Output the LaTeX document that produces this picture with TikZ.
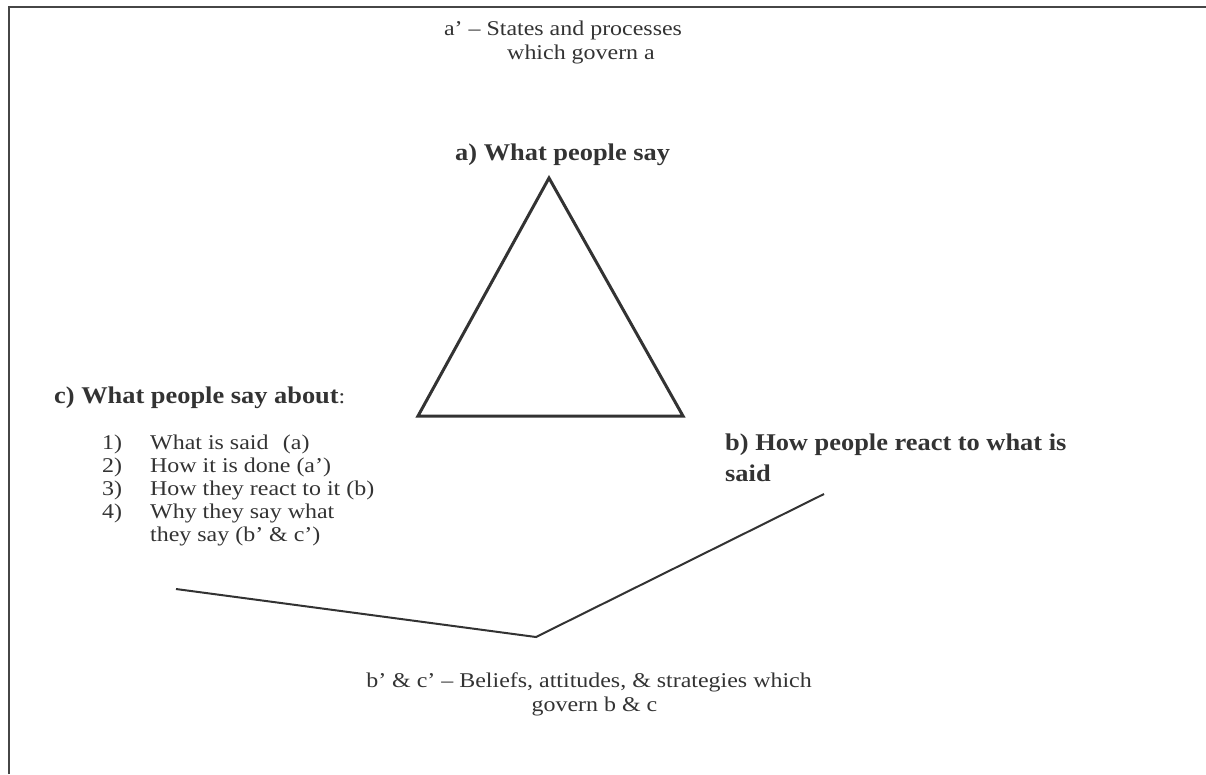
\documentclass[tikz,border=0pt]{standalone}
\usepackage{fontspec}
\setmainfont{Liberation Serif}
\newfontfamily\rfam{Liberation Serif}[FakeStretch=1.14]
\newfontfamily\bfam{Liberation Serif}[FakeStretch=1.1]
\definecolor{ink}{RGB}{51,51,51}
\definecolor{framec}{RGB}{70,70,70}
\tikzset{
  rt/.style={inner sep=0pt, text=ink, font=\rfam\fontsize{21}{24}\selectfont},
  bt/.style={inner sep=0pt, text=ink, font=\bfam\bfseries\fontsize{24}{28}\selectfont},
  tri/.style={draw=ink, line width=3pt},
  vline/.style={draw=ink, line width=2pt},
  frameline/.style={draw=framec, line width=2.5pt}
}
\begin{document}
\begin{tikzpicture}[x=1pt,y=-1pt]
\path[use as bounding box] (0,0) rectangle (1206,774);
% frame (top and left edges)
\coordinate (fbl) at (9,774);
\coordinate (ftl) at (9,7);
\coordinate (ftr) at (1206,7);
\draw[frameline] (fbl) -- (ftl) -- (ftr);
% a'
\node[rt, anchor=base] (ap1) at (563,35.5) {a’ – States and processes};
\node[rt, anchor=base] (ap2) at (581,59) {which govern a};
% a)
\node[bt, anchor=base west] (a) at (455,160) {a) What people say};
% triangle
\coordinate (tA) at (549,178);
\coordinate (tL) at (418,416);
\coordinate (tR) at (683,416);
\draw[tri] (tA) -- (tL) -- (tR) -- cycle;
% c)
\node[bt, anchor=base west] (c) at (54,403) {c) What people say about\rfam\mdseries\fontsize{21}{24}\selectfont:};
\node[rt, anchor=base west] (n1) at (102,449) {1)};
\node[rt, anchor=base west] (l1) at (150,449) {What is said\hspace{0.4em} (a)};
\node[rt, anchor=base west] (n2) at (102,472) {2)};
\node[rt, anchor=base west] (l2) at (150,472) {How it is done (a’)};
\node[rt, anchor=base west] (n3) at (102,495) {3)};
\node[rt, anchor=base west] (l3) at (150,495) {How they react to it (b)};
\node[rt, anchor=base west] (n4) at (102,518) {4)};
\node[rt, anchor=base west] (l4) at (150,518) {Why they say what};
\node[rt, anchor=base west] (l5) at (150,541) {they say (b’ \& c’)};
% b)
\node[bt, anchor=base west] (b1) at (725,450) {b) How people react to what is};
\node[bt, anchor=base west] (b2) at (725,481) {said};
% V lines
\coordinate (v1) at (176,589);
\coordinate (v2) at (536,637);
\coordinate (v3) at (824,494);
\draw[vline] (v1) -- (v2) -- (v3);
% b' & c'
\node[rt, anchor=base] (bc1) at (589,687) {b’ \& c’ – Beliefs, attitudes, \& strategies which};
\node[rt, anchor=base] (bc2) at (594.5,711) {govern b \& c};
\end{tikzpicture}
\end{document}
